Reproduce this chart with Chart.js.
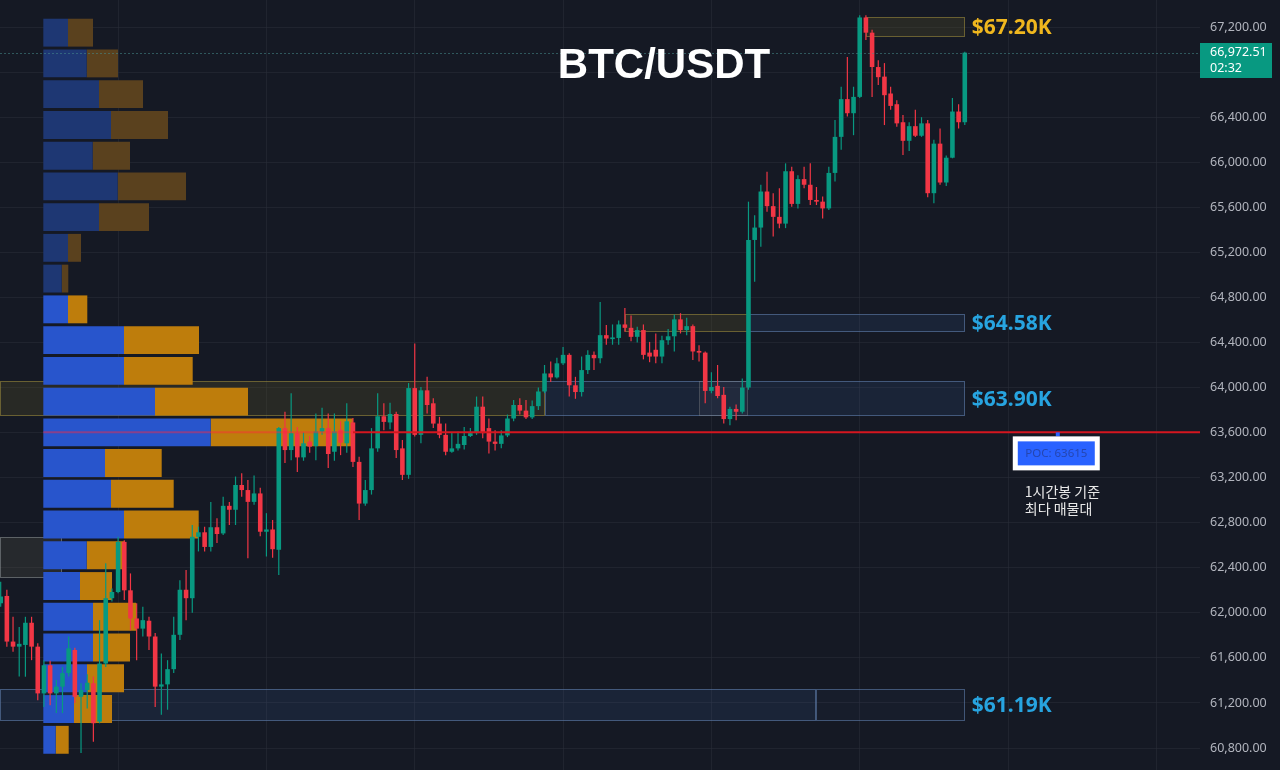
<!DOCTYPE html>
<html>
<head>
<meta charset="utf-8">
<title>BTC/USDT</title>
<script src="https://cdn.jsdelivr.net/npm/chart.js@4.4.1/dist/chart.umd.min.js"></script>
<style>
  html, body { margin: 0; padding: 0; background: #151924; overflow: hidden; }
  #wrap { position: relative; width: 1280px; height: 770px; }
</style>
</head>
<body>
<div id="wrap"><canvas id="btcChart"></canvas></div>
<script>
// 1h candles, BTC/USDT
const opens = [62085,62150,61745,61700,61715,61912,61700,61285,61535,61285,
  61345,61465,61670,61255,61315,61375,61035,61550,62130,62185,
  62630,62200,61950,61860,61930,61790,61345,61365,61500,61805,
  62205,62130,62675,62715,62585,62760,62705,62950,62915,63135,
  63090,62985,63060,62720,62740,62560,63640,63445,63595,63380,
  63520,63480,63610,63640,63430,63625,63505,63690,63340,62970,
  63090,63460,63745,63690,63765,63460,63225,63995,63580,63975,
  63860,63680,63580,63430,63460,63490,63570,63595,63830,63640,
  63520,63500,63575,63725,63845,63795,63735,63835,63965,64125,
  64090,64215,64290,64020,63960,64155,64290,64260,64465,64430,
  64440,64560,64530,64450,64510,64310,64335,64275,64420,64455,
  64605,64510,64545,64325,64310,63970,64015,63935,63720,63810,
  63785,64000,65310,65420,65740,65610,65515,65455,65920,65630,
  65850,65800,65665,65650,65590,65905,66225,66560,66435,66580,
  67285,67150,66845,66760,66610,66515,66355,66190,66320,66235,
  66345,65725,66165,65820,66040,66450,66355];
const highs = [62275,62205,61965,61875,61965,61965,61730,61580,61575,61405,
  61520,61790,61690,61375,61455,61435,61935,62440,62215,62675,
  62645,62350,62085,62055,61965,61820,61640,61580,61965,62290,
  62380,62780,62765,62765,62985,62840,63030,62985,63210,63240,
  63180,63220,63110,62885,62825,63650,63785,63950,63650,63600,
  63570,63770,63820,63770,63770,63700,63860,63730,63385,63180,
  63640,63950,63860,63865,63785,63535,64040,64390,64005,64095,
  63905,63740,63680,63600,63610,63650,63640,63920,63920,63725,
  63620,63620,63760,63890,63905,63890,63885,64000,64200,64230,
  64265,64360,64305,64095,64275,64330,64320,64760,64555,64560,
  64595,64705,64640,64540,64560,64405,64480,64460,64520,64645,
  64660,64620,64560,64375,64320,64135,64200,64005,63830,63850,
  64080,65650,65530,65800,65915,65725,65770,65990,65960,65885,
  65960,65990,65780,65695,65960,66375,66670,66935,66670,67305,
  67305,67175,66905,66880,66670,66550,66420,66355,66465,66400,
  66375,66200,66300,66060,66570,66515,66980];
const lows = [62055,61700,61655,61435,61433,61580,61225,61165,61180,61110,
  61110,61435,61200,60755,61150,60855,61020,61520,62100,62175,
  62115,61845,61580,61790,61670,61165,61095,61140,61465,61760,
  61935,62000,62545,62545,62545,62620,62690,62780,62780,63030,
  62485,62960,62680,62500,62490,62335,63330,63355,63250,63350,
  63420,63355,63580,63285,63350,63400,63420,63295,62825,62950,
  63050,63430,63620,63630,63375,63180,63190,63565,63505,63770,
  63640,63550,63400,63420,63440,63450,63560,63580,63550,63415,
  63440,63460,63560,63700,63760,63720,63720,63800,63950,64050,
  64080,64200,63920,63900,63920,64120,64155,64215,64380,64380,
  64380,64495,64410,64400,64250,64225,64215,64215,64380,64320,
  64480,64465,64245,64230,63860,63950,63905,63680,63665,63710,
  63770,63980,64940,65250,65560,65340,65415,65415,65605,65590,
  65770,65620,65620,65500,65575,65830,66110,66405,66240,66570,
  67085,66580,66685,66330,66465,66315,66065,66100,66225,66225,
  65690,65635,65800,65790,66035,66300,66330];
const closes = [62145,61745,61700,61725,61912,61700,61285,61535,61285,61345,
  61465,61685,61255,61315,61380,61020,61550,62130,62185,62630,
  62200,61950,61860,61935,61790,61345,61365,61500,61805,62205,
  62130,62675,62715,62585,62760,62700,62950,62915,63135,63090,
  62985,63060,62720,62740,62565,63640,63445,63595,63380,63505,
  63475,63610,63640,63410,63610,63510,63700,63340,62970,63090,
  63460,63745,63695,63765,63445,63225,63995,63580,63975,63845,
  63680,63580,63430,63460,63500,63570,63595,63830,63595,63520,
  63500,63575,63725,63845,63795,63735,63835,63965,64125,64090,
  64215,64290,64020,63960,64155,64290,64260,64465,64435,64445,
  64560,64530,64450,64510,64290,64275,64275,64420,64455,64605,
  64510,64545,64320,64310,63970,64005,63925,63720,63810,63785,
  64000,65310,65420,65740,65610,65515,65455,65920,65630,65850,
  65800,65665,65650,65590,65905,66225,66560,66435,66580,67285,
  67150,66845,66755,66595,66500,66345,66190,66320,66235,66345,
  65725,66165,65820,66040,66450,66355,66972.51];

// volume profile rows (price bin centres, buy / sell volume)
const profileBins = [67150,66877,66604,66331,66058,65786,65513,65240,64967,64694,
  64421,64148,63875,63602,63330,63057,62784,62511,62238,61965,61692,61419,61146,60873];
const buyVol  = [247,434,557,677,494,744,557,247,184,247,807,807,1117,1674,617,677,807,434,367,497,497,437,307,124];
const sellVol = [250,313,440,570,373,683,500,130,66,193,750,687,930,1423,567,627,747,383,320,430,370,370,380,130];
const vaFirstRow = 9;
const pocPrice = 63615;

// key levels: candle index range + price band
const zoneFrom  = [140, 101, 121, null, 88, 113, null, 132, null];
const zoneTo    = [156, 121, 156, 88, 156, 121, 132, 156, 10];
const zoneLow   = [67112, 64493, 64493, 63747, 63747, 63747, 61040, 61040, 62309];
const zoneHigh  = [67293, 64653, 64653, 64058, 64058, 64058, 61324, 61324, 62673];
const zoneKind  = ['gold', 'gold', 'blue', 'gold', 'blue', 'grey', 'blue', 'blueLight', 'box'];
const zoneLabel = ['$67.20K', '', '$64.58K', '', '$63.90K', '', '', '$61.19K', ''];

const priceTicks = [60800,61200,61600,62000,62400,62800,63200,63600,64000,64400,64800,65200,65600,66000,66400,66800,67200];
const gridIdx = [19, 43, 67, 91, 115, 139, 163, 187];
const lastPrice = 66972.51;
const countdown = '02:32';

const UP = '#089981';
const DOWN = '#f23645';
const GRID = 'rgba(42,46,57,0.55)';

const zoneStyle = {
  gold:      { fill: 'rgba(110,100,40,0.22)', stroke: 'rgba(150,135,60,0.6)' },
  blue:      { fill: 'rgba(60,100,170,0.15)', stroke: 'rgba(95,125,170,0.6)' },
  blueLight: { fill: 'rgba(60,100,170,0.06)', stroke: 'rgba(95,125,170,0.6)' },
  grey:      { fill: 'rgba(140,140,140,0.07)', stroke: 'rgba(140,140,140,0.35)' },
  box:       { fill: 'rgba(90,90,70,0.25)', stroke: 'rgba(150,155,160,0.5)' }
};

const idx = opens.map((_, i) => i);
const candleColor = idx.map(i => closes[i] >= opens[i] ? UP : DOWN);
const wickData = idx.map(i => ({ x: i, y: [lows[i], highs[i]] }));
const bodyData = idx.map(i => ({ x: i, y: [opens[i], closes[i]] }));
const buyData = profileBins.map((p, k) => ({ y: p, x: [0, buyVol[k]] }));
const sellData = profileBins.map((p, k) => ({ y: p, x: [buyVol[k], buyVol[k] + sellVol[k]] }));
const buyColors = profileBins.map((_, k) => k < vaFirstRow ? '#1e3773' : '#2855cc');
const sellColors = profileBins.map((_, k) => k < vaFirstRow ? '#5a411e' : '#be7d0c');

let pocRow = 0;
buyVol.forEach((b, k) => { if (b + sellVol[k] > buyVol[pocRow] + sellVol[pocRow]) pocRow = k; });

const overlay = {
  id: 'overlay',
  beforeDatasetsDraw(chart) {
    const { ctx, chartArea, scales: { x, y } } = chart;
    ctx.save();
    zoneLow.forEach((lo, k) => {
      const st = zoneStyle[zoneKind[k]];
      const x0 = Math.round(zoneFrom[k] === null ? chartArea.left : x.getPixelForValue(zoneFrom[k]));
      const x1 = Math.round(x.getPixelForValue(zoneTo[k]));
      const y0 = Math.round(y.getPixelForValue(zoneHigh[k]));
      const y1 = Math.round(y.getPixelForValue(lo));
      ctx.fillStyle = st.fill;
      ctx.fillRect(x0, y0, x1 - x0, y1 - y0);
      ctx.strokeStyle = st.stroke;
      ctx.lineWidth = 1;
      ctx.strokeRect(x0 + 0.5, y0 + 0.5, x1 - x0 - 1, y1 - y0 - 1);
    });
    ctx.restore();
  },
  afterDatasetsDraw(chart) {
    const { ctx, chartArea, scales: { x, y, xv } } = chart;
    ctx.save();
    // current price line
    const py = y.getPixelForValue(lastPrice);
    ctx.strokeStyle = 'rgba(70,140,140,0.55)';
    ctx.lineWidth = 1;
    ctx.setLineDash([2, 2]);
    ctx.beginPath();
    ctx.moveTo(chartArea.left, Math.round(py) + 0.5);
    ctx.lineTo(chartArea.right, Math.round(py) + 0.5);
    ctx.stroke();
    ctx.setLineDash([]);

    // POC line
    const pocY = y.getPixelForValue(profileBins[pocRow]);
    const pEnd = xv.getPixelForValue(buyVol[pocRow] + sellVol[pocRow]);
    ctx.lineWidth = 2;
    ctx.strokeStyle = 'rgba(255,40,60,0.45)';
    ctx.beginPath();
    ctx.moveTo(xv.getPixelForValue(0), pocY);
    ctx.lineTo(pEnd, pocY);
    ctx.stroke();
    ctx.strokeStyle = '#d4161f';
    ctx.beginPath();
    ctx.moveTo(pEnd, pocY);
    ctx.lineTo(chartArea.right, pocY);
    ctx.stroke();

    // zone labels
    ctx.font = 'bold 21px "Noto Sans"';
    ctx.textBaseline = 'middle';
    ctx.textAlign = 'left';
    zoneLabel.forEach((txt, k) => {
      if (!txt) return;
      const xr = x.getPixelForValue(zoneTo[k]);
      const ym = (y.getPixelForValue(zoneHigh[k]) + y.getPixelForValue(zoneLow[k])) / 2;
      ctx.fillStyle = zoneKind[k] === 'gold' ? '#f0b71e' : '#27a4e0';
      ctx.fillText(txt, xr + 7, ym + 1);
    });

    // POC tag
    const bx = x.getPixelForValue(idx.length - 1) + 48;
    const by = pocY + 4;
    ctx.fillStyle = '#2962ff';
    ctx.fillRect(bx + 43, pocY, 4, 4);
    ctx.fillStyle = '#ffffff';
    ctx.fillRect(bx, by, 87, 34);
    ctx.fillStyle = '#2962ff';
    ctx.fillRect(bx + 5, by + 5, 77, 24);
    ctx.fillStyle = '#2546b0';
    ctx.font = '11.5px "Noto Sans"';
    ctx.textAlign = 'center';
    ctx.fillText('POC: ' + pocPrice, bx + 43.5, by + 17.5);

    ctx.fillStyle = '#e8e8e8';
    ctx.font = '14px "Noto Sans CJK KR"';
    ctx.textAlign = 'left';
    ctx.fillText('1시간봉 기준', bx + 12, by + 55);
    ctx.fillText('최다 매물대', bx + 12, by + 72);
    ctx.restore();
  },
  afterDraw(chart) {
    const { ctx, chartArea, scales: { y } } = chart;
    ctx.save();
    const py = y.getPixelForValue(lastPrice);
    ctx.fillStyle = UP;
    ctx.fillRect(chartArea.right, Math.round(py) - 10, 72, 35);
    ctx.fillStyle = '#ffffff';
    ctx.font = '12.5px "Noto Sans"';
    ctx.textAlign = 'left';
    ctx.textBaseline = 'middle';
    ctx.fillText(lastPrice.toLocaleString('en-US', { minimumFractionDigits: 2 }), chartArea.right + 10, py);
    ctx.fillText(countdown, chartArea.right + 10, py + 16);

    ctx.font = 'bold 42px "Liberation Sans"';
    ctx.textAlign = 'center';
    ctx.fillText('BTC/USDT', 664, 66);
    ctx.restore();
  }
};

new Chart(document.getElementById('btcChart'), {
  type: 'bar',
  data: {
    datasets: [
      { label: 'wick', data: wickData, xAxisID: 'x', yAxisID: 'y', backgroundColor: candleColor,
        grouped: false, categoryPercentage: 1, barPercentage: 0.2, maxBarThickness: 1.2, order: 1 },
      { label: 'body', data: bodyData, xAxisID: 'x', yAxisID: 'y', backgroundColor: candleColor,
        grouped: false, categoryPercentage: 1, barPercentage: 0.76, maxBarThickness: 4.6, minBarLength: 1, order: 0 },
      { label: 'buy', indexAxis: 'y', data: buyData, xAxisID: 'xv', yAxisID: 'yv', backgroundColor: buyColors,
        grouped: false, categoryPercentage: 1, barPercentage: 0.91, order: 3 },
      { label: 'sell', indexAxis: 'y', data: sellData, xAxisID: 'xv', yAxisID: 'yv', backgroundColor: sellColors,
        grouped: false, categoryPercentage: 1, barPercentage: 0.91, order: 3 }
    ]
  },
  options: {
    responsive: true,
    maintainAspectRatio: false,
    animation: false,
    layout: { padding: 0 },
    plugins: { legend: { display: false }, tooltip: { enabled: false }, title: { display: false } },
    scales: {
      x: {
        type: 'linear', axis: 'x', min: -0.11, max: 194.06, offset: false,
        grid: { color: GRID, drawTicks: false, offset: false },
        border: { display: false },
        ticks: { display: false },
        afterBuildTicks: s => { s.ticks = gridIdx.map(v => ({ value: v })); },
        afterFit: s => { s.height = 0; }
      },
      y: {
        type: 'linear', axis: 'y', position: 'right', min: 60605, max: 67440, beginAtZero: false,
        grid: { color: GRID, drawTicks: false },
        border: { display: false },
        ticks: {
          color: '#b2b5be', padding: 10,
          font: { family: 'Noto Sans', size: 12.5 },
          callback: v => v.toLocaleString('en-US', { minimumFractionDigits: 2, maximumFractionDigits: 2 })
        },
        afterBuildTicks: s => { s.ticks = priceTicks.map(v => ({ value: v })); },
        afterFit: s => { s.width = 80; s.paddingTop = 0; s.paddingBottom = 0; }
      },
      xv: {
        type: 'linear', axis: 'x', display: false, min: -433, max: 11567, offset: false,
        afterBuildTicks: s => { s.ticks = []; }
      },
      yv: {
        type: 'linear', axis: 'y', display: false, min: 60605, max: 67440, beginAtZero: false,
        afterBuildTicks: s => { s.ticks = []; }
      }
    }
  },
  plugins: [overlay]
});
</script>
</body>
</html>
